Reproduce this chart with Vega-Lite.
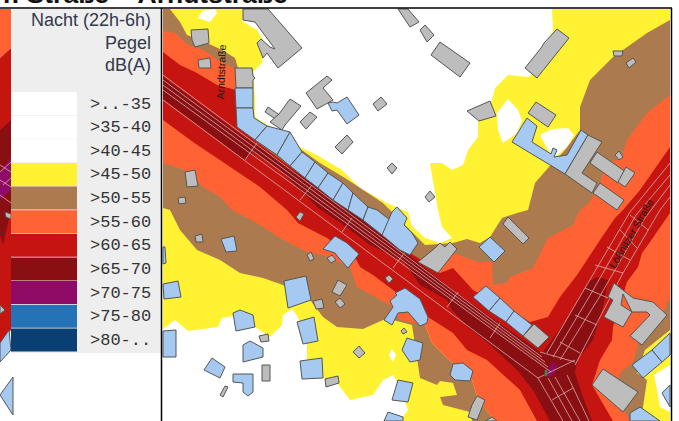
{"$schema":"https://vega.github.io/schema/vega-lite/v6.json","width":679,"height":421,"padding":0,"autosize":"none","background":"white","config":{"view":{"stroke":null}},"projection":{"type":"identity"},"resolve":{"scale":{"fill":"independent"}},"datasets":{"extent":[{"type":"Feature","properties":{"part":"extent"},"geometry":{"type":"Polygon","coordinates":[[[0,0],[679,0],[679,421],[0,421],[0,0]]]}}],"zones":[
{"type":"Feature","properties":{"zone":">55-60"},"geometry":{"type":"Polygon","coordinates":[[[0,9],[11,9],[11,48],[0,58],[0,9]]]}},
{"type":"Feature","properties":{"zone":">60-65"},"geometry":{"type":"Polygon","coordinates":[[[0,58],[11,48],[11,330],[0,345],[0,58]]]}},
{"type":"Feature","properties":{"zone":">65-70"},"geometry":{"type":"Polygon","coordinates":[[[0,130],[11,120],[11,210],[3,245],[0,235],[0,130]]]}},
{"type":"Feature","properties":{"zone":">70-75"},"geometry":{"type":"Polygon","coordinates":[[[0,172],[11,157],[11,190],[0,200],[0,172]]]}},
{"type":"Feature","properties":{"zone":">45-50"},"geometry":{"type":"Polygon","coordinates":[[[163,9],[670,9],[670,421],[163,421],[163,9]]]}},
{"type":"Feature","properties":{"zone":">40-45"},"geometry":{"type":"Polygon","coordinates":[[[245,9],[552,9],[553,30],[552,33],[545,43],[535,72],[528,77],[508,75],[495,88],[492,100],[478,122],[478,137],[468,150],[463,165],[452,170],[442,163],[430,163],[432,175],[438,210],[442,227],[452,238],[440,243],[425,238],[412,226],[408,212],[387,203],[360,188],[342,170],[317,155],[300,147],[288,138],[255,117],[255,97],[253,72],[262,63],[265,43],[257,30],[242,21],[245,9]]]}},
{"type":"Feature","properties":{"zone":">40-45"},"geometry":{"type":"Polygon","coordinates":[[[198,18],[210,22],[217,13],[215,9],[202,11],[198,18]]]}},
{"type":"Feature","properties":{"zone":">40-45"},"geometry":{"type":"Polygon","coordinates":[[[508,99],[518,110],[522,120],[517,133],[503,143],[498,130],[497,113],[508,99]]]}},
{"type":"Feature","properties":{"zone":">40-45"},"geometry":{"type":"Polygon","coordinates":[[[540,135],[552,129],[568,128],[574,135],[567,147],[555,157],[548,150],[540,135]]]}},
{"type":"Feature","properties":{"zone":">40-45"},"geometry":{"type":"Polygon","coordinates":[[[163,329],[175,320],[188,331],[218,327],[222,318],[240,315],[255,327],[270,337],[282,325],[283,315],[292,309],[298,317],[300,330],[307,345],[307,360],[323,378],[337,383],[350,400],[373,395],[383,380],[393,375],[400,387],[408,410],[400,421],[163,421],[163,329]]]}},
{"type":"Feature","properties":{"zone":">40-45"},"geometry":{"type":"Polygon","coordinates":[[[392,349],[396,355],[393,362],[389,355],[392,349]]]}},
{"type":"Feature","properties":{"zone":">40-45"},"geometry":{"type":"Polygon","coordinates":[[[670,365],[654,375],[658,395],[660,407],[670,412],[670,365]]]}},
{"type":"Feature","properties":{"zone":">50-55"},"geometry":{"type":"Polygon","coordinates":[[[163,9],[170,9],[180,22],[187,35],[205,42],[222,50],[235,58],[238,68],[238,120],[278,133],[320,163],[345,178],[383,203],[405,225],[425,245],[453,243],[467,239],[480,243],[490,237],[502,218],[517,213],[528,210],[535,183],[548,168],[565,150],[580,130],[580,107],[590,80],[613,57],[647,33],[670,20],[670,330],[645,350],[637,373],[647,380],[643,407],[640,421],[600,421],[560,360],[420,280],[163,100],[163,9]]]}},
{"type":"Feature","properties":{"zone":">50-55"},"geometry":{"type":"Polygon","coordinates":[[[163,120],[163,208],[170,210],[180,230],[197,250],[220,260],[240,273],[263,278],[283,285],[310,300],[323,317],[337,327],[363,329],[383,320],[393,320],[412,325],[420,378],[437,385],[440,381],[453,383],[457,395],[440,397],[443,405],[470,412],[472,421],[495,421],[478,400],[472,380],[447,358],[432,343],[425,325],[420,310],[163,120]]]}},
{"type":"Feature","properties":{"zone":">55-60"},"geometry":{"type":"Polygon","coordinates":[[[163,31],[175,33],[188,45],[203,50],[218,60],[237,70],[237,125],[163,125],[163,31]]]}},
{"type":"Feature","properties":{"zone":">55-60"},"geometry":{"type":"Polygon","coordinates":[[[163,118],[163,163],[185,170],[203,187],[220,197],[232,210],[257,223],[280,238],[307,252],[323,255],[350,267],[357,287],[377,298],[390,305],[400,320],[425,325],[432,343],[447,358],[472,380],[478,400],[495,421],[545,421],[540,390],[430,300],[163,118]]]}},
{"type":"Feature","properties":{"zone":">55-60"},"geometry":{"type":"Polygon","coordinates":[[[670,95],[647,113],[627,140],[622,157],[605,165],[598,190],[587,205],[580,210],[573,225],[548,238],[533,268],[510,277],[507,283],[493,285],[492,262],[478,262],[453,253],[440,262],[430,272],[500,340],[590,400],[600,421],[630,421],[615,395],[620,373],[633,362],[640,337],[660,323],[668,300],[670,300],[670,95]]]}},
{"type":"Feature","properties":{"zone":">60-65"},"geometry":{"type":"Polygon","coordinates":[[[163,52],[180,65],[197,73],[217,85],[236,90],[237,127],[348,210],[400,247],[425,262],[440,273],[453,268],[473,290],[530,322],[548,317],[560,297],[577,275],[602,237],[615,218],[623,210],[640,190],[670,147],[670,213],[650,242],[642,253],[638,267],[627,282],[613,327],[612,340],[600,360],[592,385],[613,421],[537,421],[520,390],[487,360],[467,350],[453,333],[428,317],[420,310],[393,290],[373,275],[360,267],[355,257],[327,238],[298,223],[287,210],[260,187],[193,142],[163,120],[163,52]]]}},
{"type":"Feature","properties":{"zone":">65-70"},"geometry":{"type":"Polygon","coordinates":[[[163,77],[240,134],[262,148],[285,165],[310,182],[330,195],[350,210],[375,228],[405,252],[420,264],[455,292],[542,353],[567,320],[580,297],[588,282],[597,277],[608,280],[603,307],[593,340],[577,360],[575,373],[583,397],[592,421],[550,421],[533,390],[517,370],[488,343],[468,327],[452,310],[447,300],[420,285],[405,263],[385,252],[370,245],[345,226],[317,207],[300,190],[282,172],[265,160],[253,152],[245,160],[163,99],[163,77]]]}},
{"type":"Feature","properties":{"zone":">70-75"},"geometry":{"type":"Polygon","coordinates":[[[545,375],[553,362],[557,365],[555,373],[550,377],[545,375]]]}}
],"roads":[{"type":"Feature","properties":{"road":"Arndtstraße"},"geometry":{"type":"MultiLineString","coordinates":[[[163,75],[542,357]],[[163,80],[545,362]],[[163,85],[548,367]],[[163,90],[551,372]],[[163,100],[538,378]],[[245,160],[257,143]],[[300,200],[312,185]],[[342,232],[352,218]],[[393,268],[405,252]],[[447,307],[458,292]],[[490,338],[500,323]]]}},{"type":"Feature","properties":{"road":"Lößnitzer Straße"},"geometry":{"type":"MultiLineString","coordinates":[[[547,353],[585,288],[630,212],[670,163]],[[553,357],[592,292],[636,215],[670,175]],[[560,360],[600,296],[645,218],[670,185]],[[575,365],[623,273],[660,210],[670,197]],[[585,288],[608,298]],[[575,315],[597,325]],[[560,342],[580,353]],[[595,265],[623,273]],[[607,247],[630,260]],[[620,230],[637,248]],[[630,215],[648,230]],[[540,352],[575,362]],[[538,378],[575,360]]]}},{"type":"Feature","properties":{"road":"Süd"},"geometry":{"type":"MultiLineString","coordinates":[[[538,378],[563,421]],[[548,378],[572,421]],[[555,377],[580,421]],[[567,375],[589,421]],[[552,400],[573,388]]]}},{"type":"Feature","properties":{"road":"Ausschnitt"},"geometry":{"type":"MultiLineString","coordinates":[[[0,165],[11,172]],[[0,180],[11,187]],[[0,195],[11,203]],[[0,172],[11,162]],[[3,185],[11,178]]]}}],"buildings":[
{"type":"Feature","properties":{"kind":"n"},"geometry":{"type":"Polygon","coordinates":[[[243,9],[268,9],[302,48],[278,68],[267,53],[263,58],[257,43],[261,39],[270,47],[275,49],[255,22],[243,20],[243,9]]]}},
{"type":"Feature","properties":{"kind":"n"},"geometry":{"type":"Polygon","coordinates":[[[191,30],[208,29],[209,43],[195,47],[192,40],[191,30]]]}},
{"type":"Feature","properties":{"kind":"n"},"geometry":{"type":"Polygon","coordinates":[[[198,60],[210,58],[211,68],[199,68],[198,60]]]}},
{"type":"Feature","properties":{"kind":"n"},"geometry":{"type":"Polygon","coordinates":[[[235,68],[252,68],[253,76],[255,78],[253,80],[253,88],[236,88],[235,68]]]}},
{"type":"Feature","properties":{"kind":"n"},"geometry":{"type":"Polygon","coordinates":[[[265,112],[268,107],[281,116],[277,120],[265,112]]]}},
{"type":"Feature","properties":{"kind":"n"},"geometry":{"type":"Polygon","coordinates":[[[290,99],[301,106],[285,125],[282,130],[270,122],[279,114],[290,99]]]}},
{"type":"Feature","properties":{"kind":"n"},"geometry":{"type":"Polygon","coordinates":[[[306,93],[327,76],[332,80],[323,88],[333,100],[317,109],[306,93]]]}},
{"type":"Feature","properties":{"kind":"n"},"geometry":{"type":"Polygon","coordinates":[[[300,122],[310,112],[317,117],[306,129],[300,122]]]}},
{"type":"Feature","properties":{"kind":"n"},"geometry":{"type":"Polygon","coordinates":[[[373,104],[381,97],[387,104],[378,111],[373,104]]]}},
{"type":"Feature","properties":{"kind":"n"},"geometry":{"type":"Polygon","coordinates":[[[335,147],[347,135],[353,142],[342,154],[335,147]]]}},
{"type":"Feature","properties":{"kind":"n"},"geometry":{"type":"Polygon","coordinates":[[[387,168],[392,163],[397,168],[392,174],[387,168]]]}},
{"type":"Feature","properties":{"kind":"n"},"geometry":{"type":"Polygon","coordinates":[[[398,9],[408,9],[419,22],[410,27],[398,9]]]}},
{"type":"Feature","properties":{"kind":"n"},"geometry":{"type":"Polygon","coordinates":[[[420,30],[425,25],[434,35],[427,42],[420,30]]]}},
{"type":"Feature","properties":{"kind":"n"},"geometry":{"type":"Polygon","coordinates":[[[431,55],[440,42],[470,63],[460,77],[431,55]]]}},
{"type":"Feature","properties":{"kind":"n"},"geometry":{"type":"Polygon","coordinates":[[[525,68],[541,48],[544,43],[557,29],[569,38],[537,78],[525,68]]]}},
{"type":"Feature","properties":{"kind":"n"},"geometry":{"type":"Polygon","coordinates":[[[467,111],[490,101],[496,116],[479,121],[467,111]]]}},
{"type":"Feature","properties":{"kind":"n"},"geometry":{"type":"Polygon","coordinates":[[[528,113],[536,102],[556,115],[548,127],[528,113]]]}},
{"type":"Feature","properties":{"kind":"n"},"geometry":{"type":"Polygon","coordinates":[[[613,51],[623,51],[622,56],[614,56],[613,51]]]}},
{"type":"Feature","properties":{"kind":"n"},"geometry":{"type":"Polygon","coordinates":[[[626,63],[633,58],[636,62],[629,68],[626,63]]]}},
{"type":"Feature","properties":{"kind":"n"},"geometry":{"type":"Polygon","coordinates":[[[425,197],[430,191],[435,197],[429,202],[425,197]]]}},
{"type":"Feature","properties":{"kind":"w"},"geometry":{"type":"Polygon","coordinates":[[[512,142],[527,118],[537,126],[532,142],[551,154],[553,148],[557,150],[554,157],[567,155],[581,130],[588,135],[565,174],[512,142]]]}},
{"type":"Feature","properties":{"kind":"n"},"geometry":{"type":"Polygon","coordinates":[[[565,174],[588,135],[602,142],[582,173],[597,183],[592,193],[565,174]]]}},
{"type":"Feature","properties":{"kind":"n"},"geometry":{"type":"Polygon","coordinates":[[[597,152],[626,172],[618,183],[590,163],[597,152]]]}},
{"type":"Feature","properties":{"kind":"n"},"geometry":{"type":"Polygon","coordinates":[[[626,167],[635,173],[625,187],[618,182],[626,167]]]}},
{"type":"Feature","properties":{"kind":"n"},"geometry":{"type":"Polygon","coordinates":[[[600,183],[624,200],[617,210],[593,193],[600,183]]]}},
{"type":"Feature","properties":{"kind":"n"},"geometry":{"type":"Polygon","coordinates":[[[615,155],[619,151],[623,157],[619,160],[615,155]]]}},
{"type":"Feature","properties":{"kind":"n"},"geometry":{"type":"Polygon","coordinates":[[[195,236],[202,234],[203,242],[196,242],[195,236]]]}},
{"type":"Feature","properties":{"kind":"n"},"geometry":{"type":"Polygon","coordinates":[[[185,172],[195,170],[198,186],[187,187],[185,172]]]}},
{"type":"Feature","properties":{"kind":"n"},"geometry":{"type":"Polygon","coordinates":[[[178,198],[185,197],[186,203],[179,204],[178,198]]]}},
{"type":"Feature","properties":{"kind":"n"},"geometry":{"type":"Polygon","coordinates":[[[296,217],[300,212],[304,214],[300,221],[296,217]]]}},
{"type":"Feature","properties":{"kind":"n"},"geometry":{"type":"Polygon","coordinates":[[[307,255],[311,252],[314,259],[310,261],[307,255]]]}},
{"type":"Feature","properties":{"kind":"n"},"geometry":{"type":"Polygon","coordinates":[[[332,292],[338,280],[347,285],[340,296],[332,292]]]}},
{"type":"Feature","properties":{"kind":"n"},"geometry":{"type":"Polygon","coordinates":[[[335,302],[340,298],[345,304],[340,308],[335,302]]]}},
{"type":"Feature","properties":{"kind":"n"},"geometry":{"type":"Polygon","coordinates":[[[313,301],[322,299],[324,308],[316,309],[313,301]]]}},
{"type":"Feature","properties":{"kind":"n"},"geometry":{"type":"Polygon","coordinates":[[[385,278],[389,275],[393,279],[389,283],[385,278]]]}},
{"type":"Feature","properties":{"kind":"n"},"geometry":{"type":"Polygon","coordinates":[[[401,331],[404,328],[407,332],[403,334],[401,331]]]}},
{"type":"Feature","properties":{"kind":"n"},"geometry":{"type":"Polygon","coordinates":[[[353,352],[359,346],[365,353],[359,358],[353,352]]]}},
{"type":"Feature","properties":{"kind":"n"},"geometry":{"type":"Polygon","coordinates":[[[259,336],[268,334],[269,341],[261,342],[259,336]]]}},
{"type":"Feature","properties":{"kind":"n"},"geometry":{"type":"Polygon","coordinates":[[[262,365],[270,365],[270,381],[262,381],[262,365]]]}},
{"type":"Feature","properties":{"kind":"n"},"geometry":{"type":"Polygon","coordinates":[[[220,395],[225,386],[228,387],[223,397],[220,395]]]}},
{"type":"Feature","properties":{"kind":"n"},"geometry":{"type":"Polygon","coordinates":[[[325,379],[338,376],[339,383],[326,387],[325,379]]]}},
{"type":"Feature","properties":{"kind":"n"},"geometry":{"type":"Polygon","coordinates":[[[503,224],[508,217],[529,238],[523,244],[503,224]]]}},
{"type":"Feature","properties":{"kind":"n"},"geometry":{"type":"Polygon","coordinates":[[[418,262],[435,248],[440,243],[445,247],[450,242],[457,249],[438,273],[418,262]]]}},
{"type":"Feature","properties":{"kind":"n"},"geometry":{"type":"Polygon","coordinates":[[[523,336],[534,324],[549,337],[538,348],[523,336]]]}},
{"type":"Feature","properties":{"kind":"n"},"geometry":{"type":"Polygon","coordinates":[[[614,283],[633,298],[653,302],[667,315],[642,345],[630,336],[650,315],[647,312],[632,312],[623,294],[621,305],[632,312],[623,327],[604,317],[613,300],[608,297],[614,283]]]}},
{"type":"Feature","properties":{"kind":"n"},"geometry":{"type":"Polygon","coordinates":[[[603,369],[638,392],[623,412],[592,385],[603,369]]]}},
{"type":"Feature","properties":{"kind":"n"},"geometry":{"type":"Polygon","coordinates":[[[472,405],[477,396],[485,400],[477,420],[468,417],[472,405]]]}},
{"type":"Feature","properties":{"kind":"n"},"geometry":{"type":"Polygon","coordinates":[[[485,421],[492,417],[497,421],[485,421]]]}},
{"type":"Feature","properties":{"kind":"n"},"geometry":{"type":"Polygon","coordinates":[[[5,212],[11,214],[11,219],[6,217],[5,212]]]}},
{"type":"Feature","properties":{"kind":"n"},"geometry":{"type":"Polygon","coordinates":[[[0,305],[5,310],[0,314],[0,305]]]}},
{"type":"Feature","properties":{"kind":"w"},"geometry":{"type":"Polygon","coordinates":[[[235,88],[253,88],[253,108],[236,108],[235,88]]]}},
{"type":"Feature","properties":{"kind":"w"},"geometry":{"type":"Polygon","coordinates":[[[236,108],[253,108],[254,118],[267,126],[255,140],[237,127],[236,108]]]}},
{"type":"Feature","properties":{"kind":"w"},"geometry":{"type":"Polygon","coordinates":[[[267,126],[290,132],[277,155],[255,140],[267,126]]]}},
{"type":"Feature","properties":{"kind":"w"},"geometry":{"type":"Polygon","coordinates":[[[290,132],[302,152],[290,166],[277,155],[290,132]]]}},
{"type":"Feature","properties":{"kind":"w"},"geometry":{"type":"Polygon","coordinates":[[[302,152],[315,162],[305,178],[290,166],[302,152]]]}},
{"type":"Feature","properties":{"kind":"w"},"geometry":{"type":"Polygon","coordinates":[[[315,162],[328,173],[318,188],[305,178],[315,162]]]}},
{"type":"Feature","properties":{"kind":"w"},"geometry":{"type":"Polygon","coordinates":[[[328,173],[343,183],[333,200],[318,188],[328,173]]]}},
{"type":"Feature","properties":{"kind":"w"},"geometry":{"type":"Polygon","coordinates":[[[343,183],[353,193],[348,210],[333,200],[343,183]]]}},
{"type":"Feature","properties":{"kind":"w"},"geometry":{"type":"Polygon","coordinates":[[[353,193],[368,207],[363,220],[348,210],[353,193]]]}},
{"type":"Feature","properties":{"kind":"w"},"geometry":{"type":"Polygon","coordinates":[[[368,207],[377,210],[390,220],[382,235],[363,220],[368,207]]]}},
{"type":"Feature","properties":{"kind":"w"},"geometry":{"type":"Polygon","coordinates":[[[382,235],[392,212],[397,207],[407,218],[404,225],[412,233],[418,243],[410,255],[400,250],[382,235]]]}},
{"type":"Feature","properties":{"kind":"w"},"geometry":{"type":"Polygon","coordinates":[[[328,103],[333,102],[337,103],[347,97],[359,115],[347,124],[337,110],[332,111],[328,103]]]}},
{"type":"Feature","properties":{"kind":"w"},"geometry":{"type":"Polygon","coordinates":[[[163,247],[165,247],[166,263],[163,264],[163,247]]]}},
{"type":"Feature","properties":{"kind":"w"},"geometry":{"type":"Polygon","coordinates":[[[163,284],[178,281],[181,297],[164,299],[163,284]]]}},
{"type":"Feature","properties":{"kind":"w"},"geometry":{"type":"Polygon","coordinates":[[[221,239],[234,236],[237,251],[226,252],[221,239]]]}},
{"type":"Feature","properties":{"kind":"w"},"geometry":{"type":"Polygon","coordinates":[[[163,331],[176,330],[176,357],[163,357],[163,331]]]}},
{"type":"Feature","properties":{"kind":"w"},"geometry":{"type":"Polygon","coordinates":[[[233,313],[240,310],[253,315],[255,327],[236,331],[233,313]]]}},
{"type":"Feature","properties":{"kind":"w"},"geometry":{"type":"Polygon","coordinates":[[[243,345],[250,341],[263,348],[263,357],[243,362],[243,345]]]}},
{"type":"Feature","properties":{"kind":"w"},"geometry":{"type":"Polygon","coordinates":[[[204,370],[212,358],[225,367],[220,378],[204,370]]]}},
{"type":"Feature","properties":{"kind":"w"},"geometry":{"type":"Polygon","coordinates":[[[233,374],[253,374],[253,392],[248,396],[243,392],[243,383],[233,382],[233,374]]]}},
{"type":"Feature","properties":{"kind":"w"},"geometry":{"type":"Polygon","coordinates":[[[284,281],[306,276],[311,300],[288,308],[284,281]]]}},
{"type":"Feature","properties":{"kind":"w"},"geometry":{"type":"Polygon","coordinates":[[[297,322],[314,317],[318,341],[303,344],[297,322]]]}},
{"type":"Feature","properties":{"kind":"w"},"geometry":{"type":"Polygon","coordinates":[[[300,361],[322,358],[323,378],[302,379],[300,361]]]}},
{"type":"Feature","properties":{"kind":"w"},"geometry":{"type":"Polygon","coordinates":[[[392,400],[398,380],[413,383],[408,402],[392,400]]]}},
{"type":"Feature","properties":{"kind":"w"},"geometry":{"type":"Polygon","coordinates":[[[384,421],[388,412],[403,417],[403,421],[384,421]]]}},
{"type":"Feature","properties":{"kind":"w"},"geometry":{"type":"Polygon","coordinates":[[[402,350],[407,338],[423,343],[420,360],[410,362],[402,350]]]}},
{"type":"Feature","properties":{"kind":"w"},"geometry":{"type":"Polygon","coordinates":[[[390,301],[397,295],[395,293],[405,288],[420,299],[428,317],[427,323],[420,326],[408,312],[398,313],[392,325],[384,320],[393,307],[390,301]]]}},
{"type":"Feature","properties":{"kind":"w"},"geometry":{"type":"Polygon","coordinates":[[[323,249],[335,236],[347,243],[359,254],[348,268],[338,257],[335,253],[323,249]]]}},
{"type":"Feature","properties":{"kind":"n"},"geometry":{"type":"Polygon","coordinates":[[[327,258],[332,255],[336,260],[331,263],[327,258]]]}},
{"type":"Feature","properties":{"kind":"w"},"geometry":{"type":"Polygon","coordinates":[[[479,247],[490,237],[505,251],[494,262],[479,247]]]}},
{"type":"Feature","properties":{"kind":"w"},"geometry":{"type":"Polygon","coordinates":[[[473,297],[486,286],[500,298],[489,311],[473,297]]]}},
{"type":"Feature","properties":{"kind":"w"},"geometry":{"type":"Polygon","coordinates":[[[489,311],[500,298],[514,311],[506,322],[489,311]]]}},
{"type":"Feature","properties":{"kind":"w"},"geometry":{"type":"Polygon","coordinates":[[[506,322],[514,311],[532,325],[523,336],[506,322]]]}},
{"type":"Feature","properties":{"kind":"w"},"geometry":{"type":"Polygon","coordinates":[[[450,375],[453,364],[463,363],[473,371],[470,381],[455,380],[450,375]]]}},
{"type":"Feature","properties":{"kind":"w"},"geometry":{"type":"Polygon","coordinates":[[[632,365],[652,350],[662,362],[643,378],[632,365]]]}},
{"type":"Feature","properties":{"kind":"w"},"geometry":{"type":"Polygon","coordinates":[[[652,350],[670,333],[670,355],[662,362],[652,350]]]}},
{"type":"Feature","properties":{"kind":"w"},"geometry":{"type":"Polygon","coordinates":[[[630,413],[640,407],[660,421],[630,421],[630,413]]]}},
{"type":"Feature","properties":{"kind":"w"},"geometry":{"type":"Polygon","coordinates":[[[662,393],[670,385],[670,407],[662,393]]]}},
{"type":"Feature","properties":{"kind":"w"},"geometry":{"type":"Polygon","coordinates":[[[0,343],[9,330],[11,350],[0,362],[0,343]]]}},
{"type":"Feature","properties":{"kind":"w"},"geometry":{"type":"Polygon","coordinates":[[[13,377],[0,395],[13,415],[13,377]]]}},
{"type":"Feature","properties":{"kind":"a"},"geometry":{"type":"Polygon","coordinates":[[[545,370],[547,370],[547,376],[545,376],[545,370]]]}}
],"panel":[{"type":"Feature","properties":{"part":"Legendenfeld"},"geometry":{"type":"Polygon","coordinates":[[[11,9],[161,9],[161,353],[11,353],[11,9]]]}}],"frame":[{"type":"Feature","properties":{"part":"Rahmen"},"geometry":{"type":"MultiLineString","coordinates":[[[0,8],[672,8]],[[161.5,8],[161.5,421]],[[671.5,8],[671.5,421]]]}}]},"layer":[
{"data":{"name":"extent"},"mark":{"type":"geoshape","fill":"white","stroke":null},"encoding":{}},
{"data":{"name":"zones"},"mark":{"type":"geoshape","stroke":null},"encoding":{"fill":{"field":"properties.zone","type":"nominal","scale":{"domain":[">..-35",">35-40",">40-45",">45-50",">50-55",">55-60",">60-65",">65-70",">70-75",">75-80",">80-.."],"range":["#ffffff","#ffffff","#ffffff","#fff233","#ab7b4f","#ff6233","#c61510","#8a0f12","#8e0b66","#2672b6","#0a3f74"]},"legend":{"orient":"none","legendX":11,"legendY":12,"zindex":1,"padding":0,"title":["Nacht (22h-6h)","Pegel","dB(A)"],"titleFont":"Liberation Sans","titleFontSize":18,"titleFontWeight":"normal","titleColor":"#33384a","titleAnchor":"end","titleLineHeight":22.5,"titlePadding":17,"symbolType":"M-1,-0.365H1V0.365H-1Z","symbolSize":4356,"clipHeight":23,"rowPadding":0.64,"symbolStrokeWidth":0,"symbolOpacity":1,"labelOffset":13,"labelFont":"Liberation Mono","labelFontSize":17,"labelColor":"#333333"}}}},
{"data":{"name":"roads"},"mark":{"type":"geoshape","filled":false,"stroke":"#d6adad","strokeWidth":0.8},"encoding":{}},
{"data":{"name":"buildings"},"mark":{"type":"geoshape","stroke":"#555555","strokeWidth":1},"encoding":{"fill":{"field":"properties.kind","type":"nominal","scale":{"domain":["w","n","a"],"range":["#a6c9f1","#bdbdbd","#30c030"]},"legend":null}}},
{"data":{"name":"panel"},"mark":{"type":"geoshape","fill":"#eeeeee","stroke":null},"encoding":{}},
{"data":{"name":"frame"},"mark":{"type":"geoshape","filled":false,"stroke":"black","strokeWidth":1.5},"encoding":{}},
{"data":{"values":[{"name":"Arndtstraße","lon":222,"lat":72}]},"mark":{"type":"text","font":"Liberation Sans","fontSize":10.5,"angle":272,"align":"center","baseline":"middle","color":"#111111"},"encoding":{"longitude":{"field":"lon","type":"quantitative"},"latitude":{"field":"lat","type":"quantitative"},"text":{"field":"name"}}},
{"data":{"values":[{"name":"Lößnitzer Straße","lon":632,"lat":234}]},"mark":{"type":"text","font":"Liberation Sans","fontSize":10.5,"angle":300,"align":"center","baseline":"middle","color":"#111111"},"encoding":{"longitude":{"field":"lon","type":"quantitative"},"latitude":{"field":"lat","type":"quantitative"},"text":{"field":"name"}}},
{"data":{"values":[{"name":"r. Straße – Arndtstraße","lon":3,"lat":3}]},"mark":{"type":"text","font":"Liberation Sans","fontSize":26.5,"fontWeight":"bold","align":"left","baseline":"alphabetic","color":"#111111"},"encoding":{"longitude":{"field":"lon","type":"quantitative"},"latitude":{"field":"lat","type":"quantitative"},"text":{"field":"name"}}}
]}
